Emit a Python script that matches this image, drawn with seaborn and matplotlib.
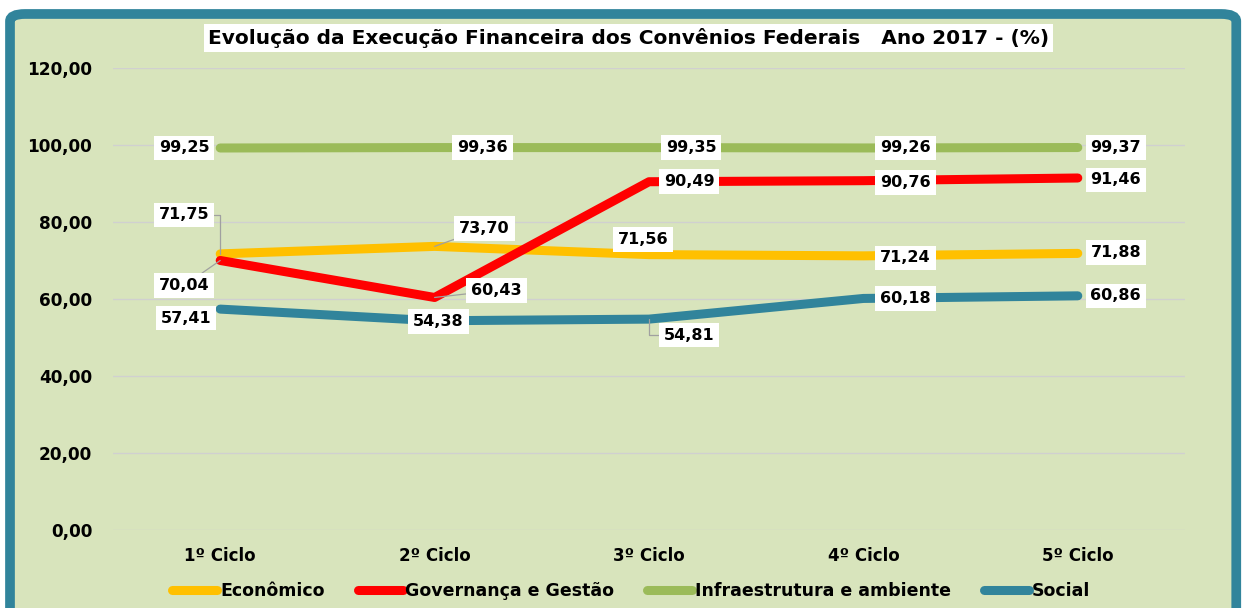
import matplotlib.pyplot as plt
import pandas as pd
import seaborn as sns
from matplotlib.patches import FancyBboxPatch

# dados do gráfico
ciclos = ['1º Ciclo', '2º Ciclo', '3º Ciclo', '4º Ciclo', '5º Ciclo']
series = ['Econômico', 'Governança e Gestão', 'Infraestrutura e ambiente', 'Social']
economico = [71.75, 73.70, 71.56, 71.24, 71.88]
governanca = [70.04, 60.43, 90.49, 90.76, 91.46]
infraestrutura = [99.25, 99.36, 99.35, 99.26, 99.37]
social = [57.41, 54.38, 54.81, 60.18, 60.86]
yticks = [0, 20, 40, 60, 80, 100, 120]

cores = ['#FFC000', '#FF0000', '#9BBB59', '#31849B']

linhas = []
for nome, valores in zip(series, [economico, governanca, infraestrutura, social]):
    for i, v in enumerate(valores):
        linhas.append({'ciclo': i, 'valor': v, 'serie': nome})
df = pd.DataFrame(linhas)

# deslocamento dos rótulos (pixels) e estilo da linha de chamada
offsets = {
    'Econômico': [(-36, 39, 'cotovelo'), (50, 18, 'reta'), (-6, 15, None), (42, -2, None), (38, 1, None)],
    'Governança e Gestão': [(-36, -25, 'reta'), (62, 7, 'reta'), (40, 0, None), (42, -2, None), (38, -2, None)],
    'Infraestrutura e ambiente': [(-36, 0, None), (48, 0, None), (42, 0, None), (42, 0, None), (38, 0, None)],
    'Social': [(-34, -9, None), (4, -1, None), (40, -16, 'cotovelo'), (42, 0, None), (38, 0, None)],
}

fig = plt.figure(figsize=(12.5, 6.08), dpi=100)
fig.patch.set_facecolor('white')

moldura = FancyBboxPatch((0.008, -0.1), 0.981, 1.077, boxstyle='round,pad=0,rounding_size=0.012',
                         transform=fig.transFigure, facecolor='#D8E4BC', edgecolor='#31849B',
                         lw=7, zorder=-10)
fig.add_artist(moldura)

ax = fig.add_axes([0.0904, 0.128, 0.8576, 0.76])
ax.set_facecolor('none')

sns.lineplot(data=df, x='ciclo', y='valor', hue='serie', hue_order=series,
             palette=cores, lw=6.5, ax=ax, sort=False, legend=True)
for ln in ax.get_lines():
    ln.set_solid_capstyle('round')
    ln.set_solid_joinstyle('round')

ax.set_xlim(-0.5, 4.5)
ax.set_ylim(0, 120)
ax.set_yticks(yticks)
ax.set_yticklabels([f'{v:.2f}'.replace('.', ',') for v in yticks], fontsize=12.2, fontweight='bold')
ax.set_xticks(range(len(ciclos)))
ax.set_xticklabels(ciclos, fontsize=12, fontweight='bold')
ax.tick_params(axis='x', length=0, pad=12)
ax.tick_params(axis='y', length=0, pad=15)
ax.grid(axis='y', color='#D0D0D0', lw=1)
ax.set_axisbelow(True)
for s in ax.spines.values():
    s.set_visible(False)
ax.set_xlabel('')
ax.set_ylabel('')

# rótulos de dados
for nome, valores in zip(series, [economico, governanca, infraestrutura, social]):
    for i, v in enumerate(valores):
        dx, dy, chamada = offsets[nome][i]
        seta = None
        if chamada == 'reta':
            seta = dict(arrowstyle='-', color='#A0A0A0', lw=0.9, shrinkA=0, shrinkB=0)
        elif chamada == 'cotovelo':
            seta = dict(arrowstyle='-', color='#A0A0A0', lw=0.9, shrinkA=0, shrinkB=0,
                        connectionstyle='angle,angleA=0,angleB=90,rad=0')
        ax.annotate(f'{v:.2f}'.replace('.', ','), xy=(i, v), xytext=(dx, dy),
                    textcoords='offset pixels', ha='center', va='center',
                    fontsize=11.5, fontweight='bold', zorder=5,
                    bbox=dict(boxstyle='square,pad=0.3', fc='white', ec='none'),
                    arrowprops=seta)

fig.text(0.503, 1 - 38 / 608,
         'Evolução da Execução Financeira dos Convênios Federais   Ano 2017 - (%)',
         ha='center', va='center', fontsize=14.5, fontweight='bold',
         bbox=dict(boxstyle='square,pad=0.2', fc='white', ec='none'))

handles, labels = ax.get_legend_handles_labels()
ax.get_legend().remove()
for h in handles:
    h.set_linewidth(6.5)
    h.set_solid_capstyle('round')
fig.legend(handles, labels, loc='center', bbox_to_anchor=(0.505, 1 - 591 / 608), ncol=4,
           frameon=False, handlelength=2.6, handletextpad=0.15, columnspacing=1.9,
           prop={'weight': 'bold', 'size': 12.5})

fig.savefig('out.png', dpi=100, facecolor='white')
